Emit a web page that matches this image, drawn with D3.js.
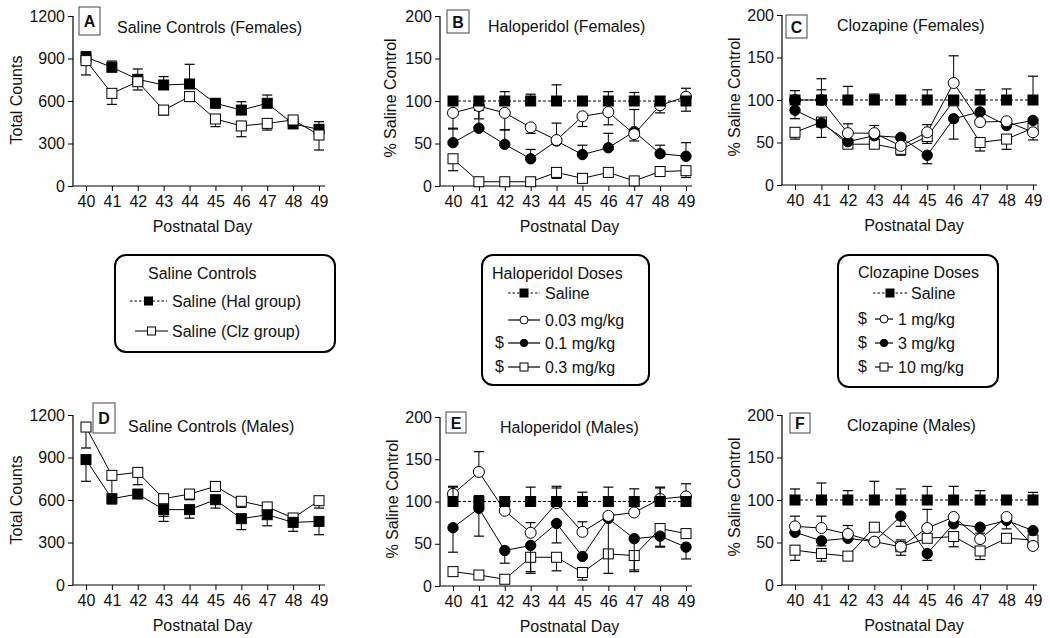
<!DOCTYPE html>
<html><head><meta charset="utf-8">
<script src="https://cdn.jsdelivr.net/npm/d3@7"></script>
<style>
body{margin:0;background:#fff}
svg{display:block}
text{font-family:"Liberation Sans",Arial,sans-serif;fill:#111}
</style>
</head><body><svg id="c" width="1050" height="638"></svg>
<script>
// ---------- data ----------
const days = [40, 41, 42, 43, 44, 45, 46, 47, 48, 49];
const countTicks = [0, 300, 600, 900, 1200];
const pctTicks = [0, 50, 100, 150, 200];

// A: Saline controls (females), total counts; err sign = direction of bar
const aHal = [910, 838, 753, 713, 720, 584, 536, 584, 438, 400];
const aHalErr = [38, 44, 73, 59, 139, 0, 59, 58, 0, 54];
const aClz = [885, 654, 736, 536, 631, 473, 424, 442, 466, 360];
const aClzErr = [-101, -78, -58, -35, -24, -54, -76, -47, 0, -106];

// B: Haloperidol (females), % saline control
const bSal = [100, 100, 100, 100, 100, 100, 100, 100, 100, 100];
const bSalErr = [0, 0, 11, 8, 19, 0, 11, 10, 0, -12];
const b003 = [86, 94, 86, 69, 54, 82, 87, 61, 95, 105];
const b003Err = [-18, -15, -20, -7, 20, -12, -15, -8, -9, 10];
const b01 = [51, 68, 49, 32, 53, 37, 45, 64, 38, 35];
const b01Err = [16, 21, 17, 11, 0, 11, 17, 26, 10, 16];
const b03 = [32, 5, 5, 5, 16, 9, 16, 6, 17, 18];
const b03Err = [-14, 0, 0, 0, -7, 0, 0, 0, -3, -8];

// C: Clozapine (females)
const cSal = [100, 100, 100, 100, 100, 100, 100, 100, 100, 100];
const cSalErr = [11, 25, 16, 7, 0, 12, 0, 12, 13, 28];
const c1 = [100, 100, 61, 61, 46, 62, 120, 74, 75, 62];
const c1Err = [0, 12, 11, 9, 0, 9, 32, 0, 0, -9];
const c3 = [88, 73, 51, 58, 56, 35, 78, 86, 70, 76];
const c3Err = [-10, 0, 0, 0, 0, -10, -24, 0, 0, 0];
const c10 = [62, 74, 48, 48, 42, 57, 99, 50, 54, 67];
const c10Err = [-8, -18, -3, 0, -7, -8, 0, -10, -12, 0];

// D: Saline controls (males)
const dHal = [885, 609, 642, 532, 532, 602, 468, 496, 442, 449];
const dHalErr = [-153, -37, 0, -83, -60, -59, -77, -78, -63, -94];
const dClz = [1115, 774, 795, 609, 642, 696, 591, 551, 473, 595];
const dClzErr = [-148, -170, -87, -124, -40, -30, -43, -20, 0, -52];

// E: Haloperidol (males)
const eSal = [100, 100, 100, 100, 100, 100, 100, 100, 100, 100];
const eSalErr = [18, 7, 5, 17, 18, 11, 17, 15, 16, 4];
const e003 = [109, 135, 89, 63, 98, 64, 83, 87, 103, 106];
const e003Err = [8, 24, 0, 12, 18, 12, 0, 0, 14, 15];
const e01 = [69, 92, 42, 48, 74, 35, 80, 56, 59, 46];
const e01Err = [-29, -33, -15, -33, -23, 0, -65, -37, -12, -14];
const e03 = [17, 13, 8, 34, 34, 16, 38, 36, 68, 62];
const e03Err = [0, 0, 0, -17, -16, -9, 0, -19, -22, 0];

// F: Clozapine (males)
const fSal = [100, 100, 100, 100, 100, 100, 100, 100, 100, 100];
const fSalErr = [13, 20, 11, 22, 13, 16, 16, 11, 5, 9];
const f1 = [69, 67, 60, 51, 45, 67, 80, 54, 80, 46];
const f1Err = [12, 14, 10, 0, 8, 22, 0, 7, 0, 0];
const f3 = [62, 52, 55, 51, 81, 37, 72, 68, 76, 64];
const f3Err = [0, -6, 0, 0, -12, -8, 0, 0, -10, 0];
const f10 = [41, 37, 34, 68, 45, 55, 57, 40, 55, 53];
const f10Err = [-12, -9, 0, 0, -10, 0, -12, -10, 0, -10];

// ---------- layout ----------
const panels = [
  {id:'A', title:'Saline Controls (Females)', yLab:'Total Counts', yMax:1200, ticks:countTicks,
   ax:73, y0:186, yTop:16, x0:86, x1:319, xEnd:325, box:[79,7,21,28], tx:117, ty:33, ylx:22, yly:100,
   series:[{v:aHal,e:aHalErr,t:'fsq'},{v:aClz,e:aClzErr,t:'osq'}]},
  {id:'B', title:'Haloperidol (Females)', yLab:'% Saline Control', yMax:200, ticks:pctTicks,
   ax:440, y0:186, yTop:16, x0:453, x1:686, xEnd:692, box:[447,10,22,23], tx:488, ty:32, ylx:396, yly:98,
   series:[{v:b03,e:b03Err,t:'osq'},{v:b01,e:b01Err,t:'fci'},{v:b003,e:b003Err,t:'oci'},{v:bSal,e:bSalErr,t:'fsq',dash:true}]},
  {id:'C', title:'Clozapine (Females)', yLab:'% Saline Control', yMax:200, ticks:pctTicks,
   ax:782, y0:185, yTop:15, x0:795, x1:1033, xEnd:1037, box:[786,15,21,23], tx:837, ty:31, ylx:740, yly:97,
   series:[{v:c10,e:c10Err,t:'osq'},{v:c3,e:c3Err,t:'fci'},{v:c1,e:c1Err,t:'oci'},{v:cSal,e:cSalErr,t:'fsq',dash:true}]},
  {id:'D', title:'Saline Controls (Males)', yLab:'Total Counts', yMax:1200, ticks:countTicks,
   ax:73, y0:585, yTop:415, x0:86, x1:319, xEnd:325, box:[93,403,22,30], tx:128, ty:432, ylx:22, yly:500,
   series:[{v:dClz,e:dClzErr,t:'osq'},{v:dHal,e:dHalErr,t:'fsq'}]},
  {id:'E', title:'Haloperidol (Males)', yLab:'% Saline Control', yMax:200, ticks:pctTicks,
   ax:440, y0:586, yTop:417, x0:453, x1:686, xEnd:692, box:[446,412,20,21], tx:500, ty:433, ylx:398, yly:499,
   series:[{v:e03,e:e03Err,t:'osq'},{v:e01,e:e01Err,t:'fci'},{v:e003,e:e003Err,t:'oci'},{v:eSal,e:eSalErr,t:'fsq',dash:true}]},
  {id:'F', title:'Clozapine (Males)', yLab:'% Saline Control', yMax:200, ticks:pctTicks,
   ax:782, y0:585, yTop:415, x0:795, x1:1033, xEnd:1037, box:[790,413,20,20], tx:847, ty:431, ylx:740, yly:497,
   series:[{v:f10,e:f10Err,t:'osq'},{v:f3,e:f3Err,t:'fci'},{v:f1,e:f1Err,t:'oci'},{v:fSal,e:fSalErr,t:'fsq',dash:true}]}
];

const svg = d3.select('#c');

function marker(g, t, cx, cy, s) {
  if (t === 'fsq' || t === 'osq') {
    g.append('rect').attr('x', cx - s/2).attr('y', cy - s/2).attr('width', s).attr('height', s)
      .attr('fill', t === 'fsq' ? '#000' : '#fff').attr('stroke', '#000').attr('stroke-width', 1);
  } else {
    g.append('circle').attr('cx', cx).attr('cy', cy).attr('r', t === 'fci' ? s/2 - 0.3 : s/2)
      .attr('fill', t === 'fci' ? '#000' : '#fff').attr('stroke', '#000').attr('stroke-width', 1);
  }
}

panels.forEach(p => {
  const g = svg.append('g');
  const x = d3.scalePoint().domain(days).range([p.x0, p.x1]);
  const y = d3.scaleLinear().domain([0, p.yMax]).range([p.y0, p.yTop]);

  // x axis
  const xa = g.append('g').attr('transform', `translate(0,${p.y0})`)
    .call(d3.axisBottom(x).tickSize(5).tickSizeOuter(0).tickPadding(5));
  xa.select('.domain').remove();
  xa.selectAll('text').attr('font-size', 16).attr('font-family', '"Liberation Sans",Arial,sans-serif').attr('fill', '#111');
  xa.selectAll('line').attr('stroke', '#000');
  g.append('line').attr('x1', p.ax).attr('x2', p.xEnd).attr('y1', p.y0).attr('y2', p.y0).attr('stroke', '#000').attr('stroke-width', 1.2);

  // y axis
  const ya = g.append('g').attr('transform', `translate(${p.ax},0)`)
    .call(d3.axisLeft(y).tickValues(p.ticks).tickFormat(d3.format('d')).tickSize(5).tickSizeOuter(0).tickPadding(3));
  ya.select('.domain').remove();
  ya.selectAll('text').attr('font-size', 16).attr('font-family', '"Liberation Sans",Arial,sans-serif').attr('fill', '#111');
  ya.selectAll('line').attr('stroke', '#000');
  g.append('line').attr('x1', p.ax).attr('x2', p.ax).attr('y1', p.y0).attr('y2', p.yTop).attr('stroke', '#000').attr('stroke-width', 1.2);

  // labels
  g.append('text').attr('transform', `translate(${p.ylx},${p.yly}) rotate(-90)`).attr('text-anchor', 'middle')
    .attr('font-size', 16).text(p.yLab);
  g.append('text').attr('x', (p.x0 + p.x1)/2).attr('y', p.y0 + 46).attr('text-anchor', 'middle')
    .attr('font-size', 16).text('Postnatal Day');
  g.append('text').attr('x', p.tx).attr('y', p.ty).attr('font-size', 16).text(p.title);

  // series
  const line = d3.line().x((d, i) => x(days[i])).y(d => y(d));
  p.series.forEach(s => {
    const sg = g.append('g');
    sg.append('path').attr('d', line(s.v)).attr('fill', 'none').attr('stroke', '#000')
      .attr('stroke-width', 1).attr('stroke-dasharray', s.dash ? '3,2' : null);
    s.v.forEach((v, i) => {
      const e = s.e[i];
      if (!e) return;
      const cx = x(days[i]);
      sg.append('line').attr('x1', cx).attr('x2', cx).attr('y1', y(v)).attr('y2', y(v + e)).attr('stroke', '#000').attr('stroke-width', 1);
      sg.append('line').attr('x1', cx - 5).attr('x2', cx + 5).attr('y1', y(v + e)).attr('y2', y(v + e)).attr('stroke', '#000').attr('stroke-width', 1.2);
    });
    s.v.forEach((v, i) => marker(sg, s.t, x(days[i]), y(v), s.t.endsWith('ci') ? 11 : 10));
  });

  // panel letter box
  const b = p.box;
  g.append('rect').attr('x', b[0]).attr('y', b[1]).attr('width', b[2]).attr('height', b[3])
    .attr('fill', '#fff').attr('stroke', '#444').attr('stroke-width', 1);
  g.append('text').attr('x', b[0] + b[2]/2).attr('y', b[1] + b[3]/2 + 6).attr('text-anchor', 'middle')
    .attr('font-size', 16).attr('font-weight', 'bold').text(p.id);
});

// ---------- legends ----------
const legSaline = ['Saline (Hal group)', 'Saline (Clz group)'];
const legHal = ['Saline', '0.03 mg/kg', '0.1 mg/kg', '0.3 mg/kg'];
const legClz = ['Saline', '1 mg/kg', '3 mg/kg', '10 mg/kg'];

const legends = [
  {box:[115,255,220,97], title:'Saline Controls', tx:148, ty:279,
   rows:[{lab:legSaline[0], t:'fsq', dash:true, y:301, l0:130, l1:167, tx:172},
         {lab:legSaline[1], t:'osq', y:331, l0:135, l1:168, tx:172}]},
  {box:[482,255,167,130], title:'Haloperidol Doses', tx:492, ty:279,
   rows:[{lab:legHal[0], t:'fsq', dash:true, y:293, l0:508, l1:540, tx:545},
         {lab:legHal[1], t:'oci', y:320, l0:508, l1:540, tx:545},
         {lab:legHal[2], t:'fci', y:343, l0:508, l1:540, tx:545, dollar:495},
         {lab:legHal[3], t:'osq', y:367, l0:508, l1:540, tx:545, dollar:495}]},
  {box:[838,255,160,132], title:'Clozapine Doses', tx:858, ty:278,
   rows:[{lab:legClz[0], t:'fsq', dash:true, y:293, l0:873, l1:907, tx:911},
         {lab:legClz[1], t:'oci', y:319, l0:875, l1:893, tx:898, dollar:858},
         {lab:legClz[2], t:'fci', y:343, l0:875, l1:893, tx:898, dollar:858},
         {lab:legClz[3], t:'osq', y:367, l0:875, l1:893, tx:898, dollar:858}]}
];

legends.forEach(L => {
  const g = svg.append('g');
  const b = L.box;
  g.append('rect').attr('x', b[0]).attr('y', b[1]).attr('width', b[2]).attr('height', b[3])
    .attr('rx', 11).attr('ry', 11).attr('fill', '#fff').attr('stroke', '#000').attr('stroke-width', 2);
  g.append('text').attr('x', L.tx).attr('y', L.ty).attr('font-size', 16).text(L.title);
  L.rows.forEach(r => {
    g.append('line').attr('x1', r.l0).attr('x2', r.l1).attr('y1', r.y).attr('y2', r.y)
      .attr('stroke', '#000').attr('stroke-width', 1.2).attr('stroke-dasharray', r.dash ? '2.5,2' : null);
    marker(g, r.t, (r.l0 + r.l1)/2, r.y, 8);
    g.append('text').attr('x', r.tx).attr('y', r.y + 6).attr('font-size', 16).text(r.lab);
    if (r.dollar) g.append('text').attr('x', r.dollar).attr('y', r.y + 5).attr('font-size', 16).text('$');
  });
});
</script></body></html>
